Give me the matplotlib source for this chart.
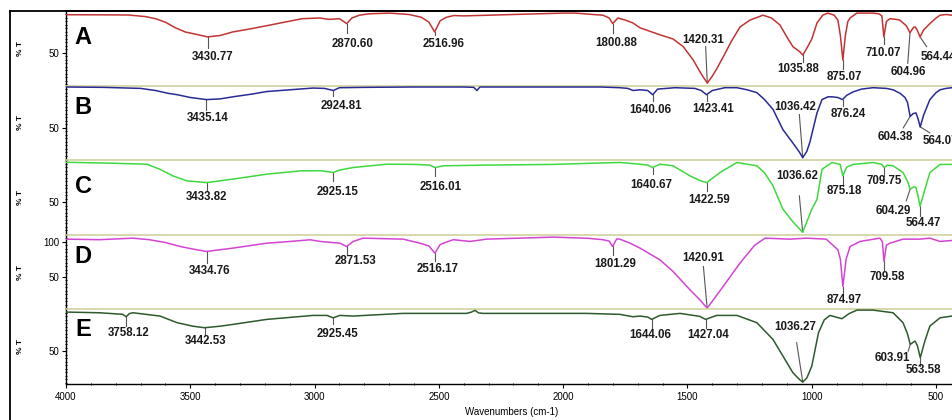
import numpy as np
import matplotlib
matplotlib.use("Agg")
import matplotlib.pyplot as plt
from matplotlib.lines import Line2D
from matplotlib.ticker import MultipleLocator, FixedLocator

plt.rcParams['font.family'] = ['Liberation Sans', 'DejaVu Sans']

# ---------------- data (wavenumber cm-1, %T) ----------------
wn_A = [4000, 3850, 3750, 3680, 3640, 3600, 3560, 3520, 3480, 3430.77, 3380, 3330, 3250, 3150, 3050, 2980,
        2940, 2900, 2870.60, 2850, 2820, 2780, 2700, 2620, 2570, 2540, 2516.96, 2495, 2470, 2440, 2400, 2300,
        2200, 2100, 2000, 1950, 1880, 1840, 1815, 1800.88, 1780, 1750, 1720, 1691, 1651, 1611, 1558, 1517,
        1477, 1443, 1420.31, 1400, 1383, 1357, 1323, 1289, 1249, 1196, 1162, 1128, 1102, 1076, 1049, 1035.88,
        1015, 1000, 979, 956, 935, 910, 895, 885, 875.07, 865, 855, 846, 819, 790, 754, 730, 718, 710.07, 700,
        686, 660, 646, 633, 620, 604.96, 590, 583, 575, 564.44, 550, 525, 500, 484, 460, 436]
T_A = [104.7, 104.5, 104.3, 102, 99, 94, 86, 80, 77, 73, 75, 80, 85, 92, 99, 100,
       98, 99, 92, 100, 104, 106, 107, 105, 101, 94, 80, 96, 101, 103.5, 103, 104,
       105, 106, 107, 107, 105, 104, 100, 92, 100, 97, 93, 86, 81, 76, 70, 59,
       40, 19, 7, 17, 27, 44, 67, 87, 97, 104, 100, 90, 74, 59, 52, 47,
       60, 70, 93, 104, 107, 104, 97, 75, 40, 75, 95, 100, 107, 107, 107, 106, 103, 73, 95,
       99, 98, 97, 93, 89, 79, 87, 87, 82, 73, 83, 92, 100, 104, 105, 104]

wn_B = [4000, 3850, 3700, 3640, 3590, 3553, 3500, 3435.14, 3380, 3328, 3250, 3193, 3100, 3006, 2960, 2924.81,
        2900, 2800, 2600, 2400, 2360, 2347, 2335, 2200, 2000, 1850, 1772, 1740, 1719, 1691, 1660, 1640.06,
        1620, 1550, 1470, 1445, 1423.41, 1400, 1350, 1301, 1260, 1221, 1190, 1156, 1116, 1076, 1050, 1036.42,
        1020, 1007, 990, 979, 959, 935, 919, 895, 876.24, 860, 834, 800, 754, 700, 673, 645, 625, 615,
        604.38, 592, 581, 572, 564.0, 550, 525, 500, 484, 460, 436]
T_B = [108, 107.5, 106, 103, 99, 97, 93, 90, 91, 94, 98, 101.5, 104, 106.5, 106, 103,
       107, 107.5, 108, 108, 107.5, 103, 108, 108, 108, 108, 107, 106, 103, 104, 103, 97,
       105, 107, 106, 103, 97, 103, 107, 107, 104, 100, 90, 76, 47, 28, 15, 7,
       16, 30, 55, 71, 90, 94, 94, 93, 90, 96, 101, 105, 107, 106, 104, 99, 93, 86,
       66, 70, 71, 62, 51, 68, 90, 100, 104, 106, 107]

wn_C = [4000, 3850, 3674, 3622, 3570, 3514, 3433.82, 3328, 3193, 3059, 2978, 2925.15, 2899, 2845, 2711, 2600,
        2537, 2516.01, 2482, 2308, 2040, 1850, 1772, 1691, 1660, 1640.67, 1611, 1558, 1490, 1450, 1422.59,
        1369, 1301, 1221, 1190, 1156, 1116, 1076, 1036.62, 1000, 979, 959, 919, 886, 875.18, 860, 834, 754,
        718, 709.75, 695, 673, 633, 615, 604.29, 590, 581, 572, 564.47, 550, 525, 484, 436]
T_C = [107, 106, 104.3, 97, 87.6, 80.5, 78, 83, 90, 94.7, 95, 92.4, 96, 99.5, 104.3, 104,
       103, 99.5, 102, 103, 104, 106, 106.7, 104.3, 103, 99.5, 104.3, 102, 87.6, 81, 78,
       92.4, 106.7, 102, 92, 73.3, 40, 22, 7, 40, 54, 97, 106.7, 104, 87.6, 100, 104, 106.7,
       104, 99.5, 103, 102, 92.4, 80, 68.6, 72, 71, 58, 44, 62, 92.4, 104, 104]

wn_D = [4000, 3866, 3731, 3665, 3600, 3541, 3480, 3434.76, 3328, 3193, 3080, 3018, 2978, 2898, 2871.53, 2845,
        2805, 2644, 2576, 2540, 2516.17, 2495, 2482, 2442, 2375, 2308, 2040, 1900, 1840, 1815, 1801.29, 1785,
        1772, 1731, 1691, 1611, 1558, 1490, 1450, 1420.91, 1390, 1357, 1289, 1230, 1188, 1089, 1022, 942,
        895, 885, 874.97, 862, 846, 806, 726, 716, 709.58, 700, 686, 633, 565, 525, 484, 436]
T_D = [103.8, 103, 105.2, 103, 99, 93.3, 89, 86.2, 91, 98, 101, 102.9, 100.5, 98, 93.3, 100.5,
       105.2, 103.8, 98, 94, 83.8, 96, 98, 103, 100.5, 103.8, 106.7, 105, 103, 101, 93.3, 104,
       103.8, 98, 91, 74.3, 57.6, 31.4, 17, 5.2, 20, 36, 69.5, 95, 105.2, 103.8, 105.2, 103.8,
       88.6, 75, 36, 75, 93.3, 100.5, 105.2, 100, 72, 95, 98, 103.8, 103.8, 105.2, 100.5, 101.9]

wn_E = [4000, 3866, 3772, 3758.12, 3745, 3731, 3622, 3553, 3490, 3442.53, 3380, 3328, 3193, 3006, 2950, 2925.45,
        2898, 2845, 2644, 2389, 2370, 2355, 2340, 2322, 1906, 1772, 1719, 1691, 1660, 1644.06, 1611, 1530,
        1450, 1427.04, 1383, 1301, 1221, 1156, 1116, 1076, 1050, 1036.27, 1020, 1000, 973, 950, 927, 879,
        850, 818, 754, 673, 633, 615, 603.91, 585, 575, 563.58, 545, 525, 484, 436]
T_E = [106.2, 105.2, 103, 99.5, 104, 105.2, 100.5, 91, 86, 83.8, 86, 88.6, 95.7, 101.4, 101.4, 98,
       101.4, 100.5, 104.3, 104.3, 106, 108.6, 105, 104.3, 104.3, 102.9, 99.5, 100.5, 99, 95.7, 101.4, 104.3,
       100, 95.7, 101.4, 101.4, 91, 67, 43.3, 19.5, 10, 6.2, 12, 29, 76.7, 95, 101.4, 96.7,
       104, 109, 109, 105.2, 91, 75, 60, 64.8, 58, 41, 65, 86.2, 98, 100.5]

peaks_A = ["3430.77", "2870.60", "2516.96", "1800.88", "1420.31", "1035.88", "875.07", "710.07", "604.96", "564.44"]
peaks_B = ["3435.14", "2924.81", "1640.06", "1423.41", "1036.42", "876.24", "604.38", "564.07"]
peaks_C = ["3433.82", "2925.15", "2516.01", "1640.67", "1422.59", "1036.62", "875.18", "709.75", "604.29", "564.47"]
peaks_D = ["3434.76", "2871.53", "2516.17", "1801.29", "1420.91", "874.97", "709.58"]
peaks_E = ["3758.12", "3442.53", "2925.45", "1644.06", "1427.04", "1036.27", "603.91", "563.58"]

panel_names = ["A", "B", "C", "D", "E"]
x_ticks = [4000, 3500, 3000, 2500, 2000, 1500, 1000, 500]

# ---------------- layout (label text position & leader end, in data coords) ----------------
lab_A = [(3409, 44.3, 3430.77, 57.1), (2846, 62.9, 2870.60, 79), (2480, 62.9, 2516.96, 75),
         (1788, 64.3, 1800.88, 78), (1438, 68.6, 1427, 59), (1056, 27, 1035.88, 37.6),
         (870, 15.7, 875.07, 26.7), (714, 50, 710.07, 62.9), (613, 22.9, 614, 35.3), (492, 44.3, 538, 59)]
lab_B = [(3429, 64.3, 3435.14, 75.7), (2894, 81.4, 2924.81, 94.7), (1651, 75.7, 1640.06, 87.6),
         (1397, 77.1, 1423.41, 87.6), (1068, 80, 1050, 68.6), (854, 70, 876.24, 80.4),
         (665, 37.1, 632, 49.6), (484, 31.4, 525, 42.4)]
lab_C = [(3433, 57.1, 3433.82, 66.2), (2906, 64.3, 2925.15, 80.5), (2492, 71.4, 2516.01, 87.6),
         (1647, 74.3, 1640.67, 90), (1413, 52.9, 1422.59, 66.2), (1060, 87.1, 1050, 59),
         (870, 65.7, 875.18, 73.3), (710, 80, 709.75, 87.6), (673, 37.1, 620, 52), (553, 20, 564.47, 30.4)]
lab_D = [(3421, 58.6, 3434.76, 69.5), (2837, 72.9, 2871.53, 81.4), (2504, 61.4, 2516.17, 72),
         (1792, 68.6, 1801.29, 81.4), (1438, 77.1, 1436, 64.7), (870, 17.1, 874.97, 24.3),
         (697, 50, 709.58, 60)]
lab_E = [(3747, 75.7, 3758.12, 86.2), (3437, 64.7, 3442.53, 72.9), (2906, 74.3, 2925.45, 88.6),
         (1651, 72.9, 1644.06, 83.8), (1418, 72.9, 1427.04, 83.8), (1068, 84.3, 1061, 62.4),
         (677, 40, 612, 50.4), (553, 22.9, 563.58, 29)]
letter_T = [72, 78, 73, 78.6, 81.4]

colors = ["#c23434", "#2a2a96", "#3fd83f", "#d444d4", "#2e5a2e"]
W, H = 952, 420
X0, X1 = 66, 952
TOP, BOT = 11, 384
PH = (BOT - TOP) / 5.0
XLIM = (4000, 436)
YLIM = (3.4, 110)

spectra = [(wn_A, T_A), (wn_B, T_B), (wn_C, T_C), (wn_D, T_D), (wn_E, T_E)]
peaks = [peaks_A, peaks_B, peaks_C, peaks_D, peaks_E]
labs = [lab_A, lab_B, lab_C, lab_D, lab_E]

fig = plt.figure(figsize=(W / 100, H / 100), dpi=100)
khaki = "#d2d2a0"

axes = []
for i in range(5):
    y_top = TOP + i * PH
    ax = fig.add_axes([X0 / W, 1 - (y_top + PH) / H, (X1 - X0) / W, PH / H])
    ax.patch.set_alpha(0)
    axes.append(ax)
    w, t = spectra[i]
    ax.plot(w, t, color=colors[i], lw=1.1, zorder=3)
    ax.set_xlim(*XLIM)
    ax.set_ylim(*YLIM)
    # spines
    ax.spines['right'].set_visible(False)
    ax.spines['left'].set_color('black')
    ax.spines['left'].set_linewidth(1.0)
    if i == 0:
        ax.spines['top'].set_color('black')
        ax.spines['top'].set_linewidth(1.3)
    else:
        ax.spines['top'].set_color(khaki)
        ax.spines['top'].set_linewidth(1.2)
    if i == 4:
        ax.spines['bottom'].set_color('black')
        ax.spines['bottom'].set_linewidth(1.0)
    else:
        ax.spines['bottom'].set_visible(False)
    # y ticks
    ax.yaxis.set_major_locator(FixedLocator([50, 100] if i == 3 else [50]))
    ax.yaxis.set_minor_locator(MultipleLocator(5))
    ax.tick_params(axis='y', which='major', length=3, width=0.8, direction='out', labelsize=7, pad=2)
    ax.tick_params(axis='y', which='minor', length=2, width=0.7, direction='inout')
    # x ticks
    if i < 4:
        ax.tick_params(axis='x', which='both', bottom=False, labelbottom=False)
    else:
        ax.xaxis.set_major_locator(FixedLocator(x_ticks))
        ax.xaxis.set_minor_locator(MultipleLocator(100))
        ax.tick_params(axis='x', which='major', length=3, width=0.8, direction='out', labelsize=7, pad=3)
        ax.tick_params(axis='x', which='minor', length=2, width=0.7, direction='inout')
    # panel letter
    ax.text(3930, letter_T[i], panel_names[i], fontsize=17, fontweight='bold', ha='center', va='center')
    # peak labels and leaders
    ws = np.array(w)[::-1]
    ts = np.array(t)[::-1]
    for lbl, (tw, tT, ew, eT) in zip(peaks[i], labs[i]):
        pw = float(lbl)
        pT = np.interp(pw, ws, ts)
        ax.plot([pw, ew], [pT, eT], color='#555555', lw=0.8, zorder=2)
        ax.text(tw, tT, lbl, fontsize=8.3, fontweight='bold', ha='center', va='center', color='#1a1a1a')
    fig.text(20 / W, 1 - (y_top + PH / 2) / H, "% T", rotation=90, fontsize=6, fontweight='bold',
             ha='center', va='center')

fig.text(512 / W, 1 - 412 / H, "Wavenumbers (cm-1)", fontsize=7, ha='center', va='center')

# outer frame
fig.add_artist(Line2D([9.5 / W, 9.5 / W], [0, 1 - 11 / H], color='black', lw=1.3))
fig.add_artist(Line2D([9.5 / W, 1], [1 - 11 / H, 1 - 11 / H], color='black', lw=1.3))

fig.savefig("out.png", dpi=100)
